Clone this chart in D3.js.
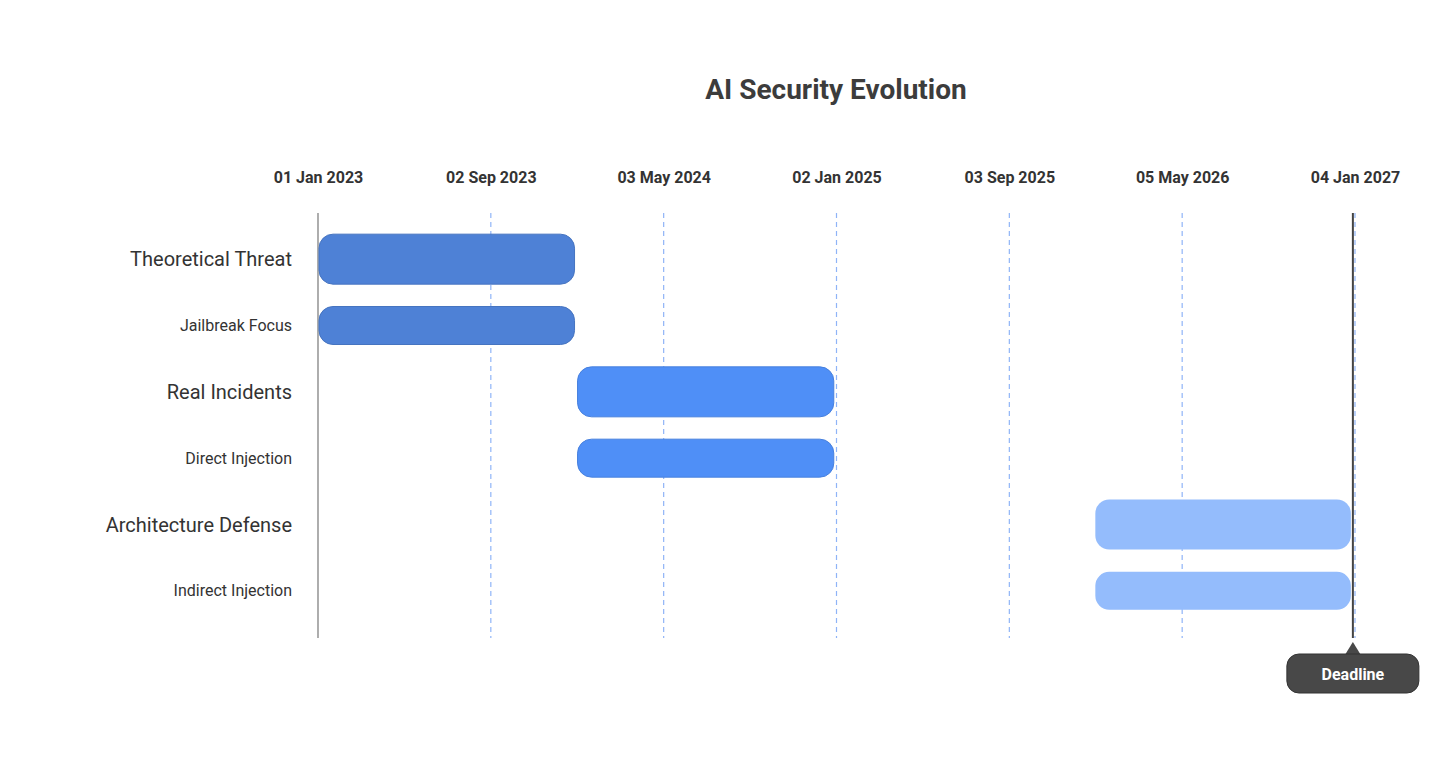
<!DOCTYPE html>
<html><head><meta charset="utf-8">
<script src="https://cdn.jsdelivr.net/npm/d3@7"></script>
<style>body{margin:0;background:#fff;font-family:Roboto,sans-serif}</style>
</head><body><svg id="chart" width="1456" height="765"></svg>
<script>
// chart data
const rows = ["Theoretical Threat", "Jailbreak Focus", "Real Incidents", "Direct Injection", "Architecture Defense", "Indirect Injection"];
const rowMajor = [true, false, true, false, true, false];
const starts = ["2023-01-01", "2023-01-01", "2024-01-01", "2024-01-01", "2026-01-01", "2026-01-01"];
const ends = ["2024-01-01", "2024-01-01", "2025-01-01", "2025-01-01", "2027-01-01", "2027-01-01"];
const colors = ["#4e81d6", "#4e81d6", "#4f8ff7", "#4f8ff7", "#94bcfc", "#94bcfc"];
const tickDates = ["2023-01-01", "2023-09-02", "2024-05-03", "2025-01-02", "2025-09-03", "2026-05-05", "2027-01-04"];
const deadline = "2027-01-01";

const parse = d3.utcParse("%Y-%m-%d");
const svg = d3.select("#chart");

const x = d3.scaleUtc()
  .domain([parse("2023-01-01"), parse("2027-01-04")])
  .range([318, 1355]);
const y = d3.scaleBand().domain(rows).range([226, 624]).paddingInner(0);

const plotTop = 213, plotBottom = 638;

// title
svg.append("text").attr("x", 836).attr("y", 99).attr("text-anchor", "middle")
  .style("font-size", "28px").style("font-weight", "bold").style("fill", "#3c3c3c")
  .text("AI Security Evolution");

// grid lines
svg.selectAll(".grid").data(tickDates.slice(1)).enter().append("line")
  .attr("x1", d => x(parse(d))).attr("x2", d => x(parse(d)))
  .attr("y1", plotTop).attr("y2", plotBottom)
  .attr("stroke", "#8fb4f7").attr("stroke-width", 1.2).attr("stroke-dasharray", "5,4");

// axis on top
const axis = svg.append("g").attr("transform", `translate(0,${plotTop})`)
  .call(d3.axisTop(x).tickValues(tickDates.map(parse)).tickFormat(d3.utcFormat("%d %b %Y")).tickSize(0));
axis.select(".domain").remove();
axis.selectAll("text").attr("y", -30).style("font-family", "Roboto, sans-serif")
  .style("font-size", "16px").style("font-weight", "bold").style("fill", "#333");

// left axis line
svg.append("line").attr("x1", 318).attr("x2", 318).attr("y1", plotTop).attr("y2", plotBottom)
  .attr("stroke", "#777").attr("stroke-width", 1.2);

// row labels
svg.selectAll(".lbl").data(rows).enter().append("text")
  .attr("x", 292).attr("y", d => y(d) + y.bandwidth() / 2).attr("dy", "0.35em")
  .attr("text-anchor", "end")
  .style("font-size", (d, i) => rowMajor[i] ? "20px" : "16px")
  .style("fill", "#333").text(d => d);

// clip bars to the timeline
svg.append("clipPath").attr("id", "clip").append("rect")
  .attr("x", x(parse("2023-01-01"))).attr("y", 0)
  .attr("width", x(parse(deadline)) - x(parse("2023-01-01"))).attr("height", 765);

svg.append("g").attr("clip-path", "url(#clip)")
  .selectAll("rect").data(rows).enter().append("rect")
  .attr("x", (d, i) => x(parse(starts[i])) + 1)
  .attr("width", (d, i) => x(parse(ends[i])) - x(parse(starts[i])) - 3)
  .attr("y", (d, i) => y(d) + y.bandwidth() / 2 - (rowMajor[i] ? 25 : 19))
  .attr("height", (d, i) => rowMajor[i] ? 50 : 38)
  .attr("rx", 14)
  .attr("fill", (d, i) => colors[i])
  .attr("stroke", (d, i) => i < 4 ? d3.color(colors[i]).darker(0.3) : "none")
  .attr("stroke-width", 1);

// deadline marker
const dx = x(parse(deadline));
svg.append("line").attr("x1", dx).attr("x2", dx).attr("y1", plotTop).attr("y2", plotBottom)
  .attr("stroke", "#444").attr("stroke-width", 2);
svg.append("path").attr("d", `M${dx - 8},655 L${dx},642 L${dx + 8},655 Z`).attr("fill", "#484848");
svg.append("rect").attr("x", dx - 66).attr("y", 654).attr("width", 132).attr("height", 39)
  .attr("rx", 12).attr("fill", "#484848").attr("stroke", "#333");
svg.append("text").attr("x", dx).attr("y", 674).attr("dy", "0.35em").attr("text-anchor", "middle")
  .style("font-size", "16px").style("font-weight", "bold").style("fill", "#fff").text("Deadline");
</script></body></html>
